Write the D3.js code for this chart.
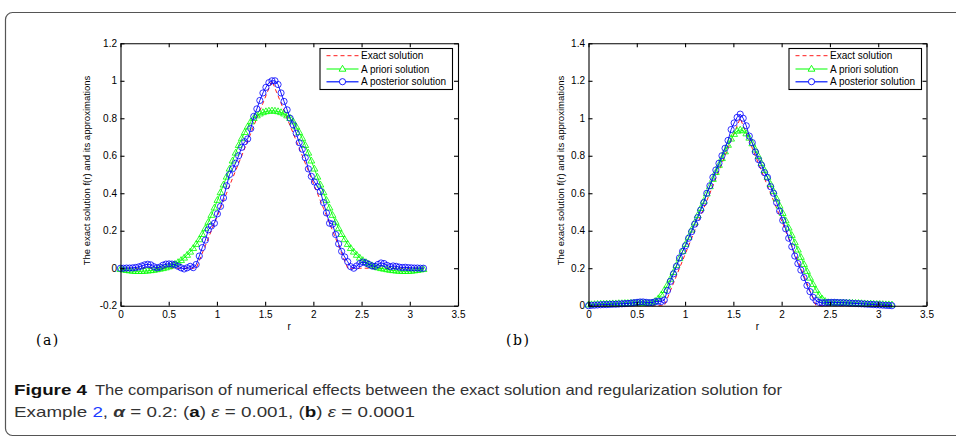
<!DOCTYPE html>
<html>
<head>
<meta charset="utf-8">
<script src="https://cdn.jsdelivr.net/npm/d3@7"></script>
<style>
  body { margin: 0; background: #fff; }
  #chart text { font-family: "Liberation Sans", Arial, Helvetica, sans-serif; }
</style>
</head>
<body>
<div id="chart"></div>
<script>
// grid r in [0, pi], 101 points
var r = [0, 0.031, 0.063, 0.094, 0.126, 0.157, 0.188, 0.220, 0.251, 0.283,
  0.314, 0.346, 0.377, 0.408, 0.440, 0.471, 0.503, 0.534, 0.565, 0.597,
  0.628, 0.660, 0.691, 0.723, 0.754, 0.785, 0.817, 0.848, 0.880, 0.911,
  0.942, 0.974, 1.005, 1.037, 1.068, 1.100, 1.131, 1.162, 1.194, 1.225,
  1.257, 1.288, 1.319, 1.351, 1.382, 1.414, 1.445, 1.477, 1.508, 1.539,
  1.571,
  1.602, 1.634, 1.665, 1.696, 1.728, 1.759, 1.791, 1.822, 1.853, 1.885,
  1.916, 1.948, 1.979, 2.011, 2.042, 2.073, 2.105, 2.136, 2.168, 2.199,
  2.231, 2.262, 2.293, 2.325, 2.356, 2.388, 2.419, 2.450, 2.482, 2.513,
  2.545, 2.576, 2.608, 2.639, 2.670, 2.702, 2.733, 2.765, 2.796, 2.827,
  2.859, 2.890, 2.922, 2.953, 2.985, 3.016, 3.047, 3.079, 3.110, 3.142];

var exact = [0, 0, 0, 0, 0, 0, 0, 0, 0, 0,
  0, 0, 0, 0, 0, 0, 0, 0, 0, 0,
  0, 0, 0, 0, 0, 0, 0.04, 0.08, 0.12, 0.16,
  0.20, 0.24, 0.28, 0.32, 0.36, 0.40, 0.44, 0.48, 0.52, 0.56,
  0.60, 0.64, 0.68, 0.72, 0.76, 0.80, 0.84, 0.88, 0.92, 0.96,
  1.00,
  0.96, 0.92, 0.88, 0.84, 0.80, 0.76, 0.72, 0.68, 0.64, 0.60,
  0.56, 0.52, 0.48, 0.44, 0.40, 0.36, 0.32, 0.28, 0.24, 0.20,
  0.16, 0.12, 0.08, 0.04, 0, 0, 0, 0, 0, 0,
  0, 0, 0, 0, 0, 0, 0, 0, 0, 0,
  0, 0, 0, 0, 0, 0, 0, 0, 0, 0];

// panel (a), eps = 0.001
var priorA = [-0.006, -0.008, -0.011, -0.013, -0.015, -0.016, -0.016, -0.016, -0.015, -0.014,
  -0.012, -0.010, -0.007, -0.004, -0.001, 0.003, 0.008, 0.014, 0.022, 0.031,
  0.042, 0.055, 0.070, 0.087, 0.106, 0.128, 0.153, 0.181, 0.212, 0.246,
  0.283, 0.322, 0.363, 0.404, 0.445, 0.487, 0.530, 0.573, 0.615, 0.656,
  0.692, 0.725, 0.755, 0.782, 0.800, 0.814, 0.824, 0.831, 0.836, 0.839,
  0.840,
  0.839, 0.836, 0.831, 0.824, 0.814, 0.800, 0.782, 0.755, 0.725, 0.692,
  0.656, 0.615, 0.573, 0.530, 0.487, 0.445, 0.404, 0.363, 0.322, 0.283,
  0.246, 0.212, 0.181, 0.153, 0.128, 0.106, 0.087, 0.070, 0.055, 0.042,
  0.031, 0.022, 0.014, 0.008, 0.003, -0.001, -0.004, -0.007, -0.010, -0.012,
  -0.014, -0.015, -0.016, -0.016, -0.016, -0.015, -0.013, -0.011, -0.008, -0.006];

var postA = [0.000, 0.000, 0.001, 0.001, 0.002, 0.004, 0.007, 0.012, 0.018, 0.021,
  0.018, 0.008, 0.002, 0.006, 0.016, 0.022, 0.023, 0.022, 0.018, 0.010,
  0.002, -0.004, 0.002, 0.010, 0.003, 0.020, 0.065, 0.110, 0.150, 0.205,
  0.225, 0.240, 0.290, 0.330, 0.375, 0.440, 0.500, 0.530, 0.560, 0.600,
  0.645, 0.675, 0.690, 0.745, 0.810, 0.850, 0.895, 0.935, 0.965, 0.990,
  1.000,
  1.000, 0.980, 0.935, 0.890, 0.845, 0.800, 0.765, 0.720, 0.670, 0.635,
  0.590, 0.530, 0.490, 0.460, 0.435, 0.410, 0.350, 0.295, 0.240, 0.235,
  0.180, 0.130, 0.090, 0.060, 0.035, 0.008, 0.000, 0.012, 0.025, 0.033,
  0.028, 0.020, 0.012, 0.010, 0.020, 0.028, 0.025, 0.015, 0.008, 0.012,
  0.010, 0.006, 0.004, 0.005, 0.003, 0.002, 0.001, 0.001, 0.000, 0.000];

// panel (b), eps = 0.0001
var priorB = [0.005, 0.006, 0.007, 0.008, 0.009, 0.009, 0.010, 0.010, 0.011, 0.011,
  0.012, 0.012, 0.013, 0.013, 0.014, 0.014, 0.015, 0.015, 0.014, 0.013,
  0.013, 0.016, 0.024, 0.038, 0.058, 0.082, 0.110, 0.142, 0.178, 0.215,
  0.252, 0.290, 0.328, 0.366, 0.405, 0.443, 0.482, 0.520, 0.558, 0.597,
  0.636, 0.675, 0.712, 0.750, 0.786, 0.822, 0.857, 0.890, 0.915, 0.932,
  0.938,
  0.934, 0.918, 0.895, 0.865, 0.832, 0.797, 0.760, 0.723, 0.686, 0.648,
  0.610, 0.571, 0.532, 0.493, 0.454, 0.415, 0.376, 0.337, 0.298, 0.259,
  0.221, 0.184, 0.148, 0.114, 0.083, 0.057, 0.037, 0.024, 0.017, 0.015,
  0.015, 0.016, 0.016, 0.016, 0.015, 0.015, 0.014, 0.013, 0.013, 0.012,
  0.011, 0.010, 0.010, 0.009, 0.008, 0.008, 0.007, 0.006, 0.006, 0.005];

var postB = [0.000, 0.002, 0.003, 0.004, 0.005, 0.006, 0.006, 0.007, 0.008, 0.008,
  0.009, 0.010, 0.011, 0.012, 0.014, 0.016, 0.018, 0.020, 0.020, 0.018,
  0.016, 0.017, 0.021, 0.024, 0.022, 0.030, 0.080, 0.130, 0.170, 0.210,
  0.255, 0.290, 0.320, 0.360, 0.395, 0.435, 0.470, 0.510, 0.550, 0.600,
  0.640, 0.685, 0.724, 0.760, 0.800, 0.840, 0.882, 0.940, 0.975, 1.005,
  1.022,
  1.000, 0.960, 0.905, 0.870, 0.820, 0.780, 0.750, 0.710, 0.685, 0.635,
  0.600, 0.550, 0.505, 0.455, 0.410, 0.360, 0.315, 0.265, 0.225, 0.190,
  0.150, 0.108, 0.075, 0.045, 0.027, 0.018, 0.015, 0.016, 0.017, 0.018,
  0.018, 0.017, 0.016, 0.016, 0.015, 0.014, 0.013, 0.012, 0.011, 0.010,
  0.009, 0.008, 0.007, 0.006, 0.005, 0.004, 0.003, 0.002, 0.001, 0.000];

var xTicks = [0, 0.5, 1, 1.5, 2, 2.5, 3, 3.5];
var yTicksA = [-0.2, 0, 0.2, 0.4, 0.6, 0.8, 1, 1.2];
var yTicksB = [0, 0.2, 0.4, 0.6, 0.8, 1, 1.2, 1.4];
var legendNames = ["Exact solution", "A priori solution", "A posterior solution"];
var panelNames = ["(a)", "(b)"];
var yLabel = "The exact solution f(r) and its approximations";
var xLabel = "r";

var svg = d3.select("#chart").append("svg")
    .attr("width", 956)
    .attr("height", 438);

// outer frame of the figure box
svg.append("rect")
    .attr("x", 5.5).attr("y", 12.5)
    .attr("width", 1000).attr("height", 423)
    .attr("rx", 7)
    .attr("fill", "none")
    .attr("stroke", "#555")
    .attr("stroke-width", 1.2);

var triPath = "M0,-3.7L3.4,2.2L-3.4,2.2Z";
var circR = 3.1;

var drawPanel = function (cfg) {
  var x = d3.scaleLinear().domain([0, 3.5]).range([cfg.left, cfg.right]);
  var y = d3.scaleLinear().domain(cfg.yDomain).range([cfg.bottom, cfg.top]);
  var g = svg.append("g");
  var fmt = function (d) { return String(d); };

  // curves: exact, a priori, a posterior
  var line = function (vals) {
    return d3.line()
      .x(function (d, i) { return x(r[i]); })
      .y(function (d) { return y(d); })(vals);
  };
  g.append("path").attr("d", line(exact))
      .attr("fill", "none").attr("stroke", "#ff0000")
      .attr("stroke-width", 0.9).attr("stroke-dasharray", "4,3");

  g.append("path").attr("d", line(cfg.prior))
      .attr("fill", "none").attr("stroke", "#00ff00").attr("stroke-width", 0.9);
  g.selectAll(".tri").data(cfg.prior).enter().append("path")
      .attr("d", triPath)
      .attr("transform", function (d, i) { return "translate(" + x(r[i]) + "," + y(d) + ")"; })
      .attr("fill", "none").attr("stroke", "#00ff00").attr("stroke-width", 0.8);

  g.append("path").attr("d", line(cfg.post))
      .attr("fill", "none").attr("stroke", "#0000ff").attr("stroke-width", 0.9);
  g.selectAll(".circ").data(cfg.post).enter().append("circle")
      .attr("cx", function (d, i) { return x(r[i]); })
      .attr("cy", function (d) { return y(d); })
      .attr("r", circR)
      .attr("fill", "none").attr("stroke", "#0000ff").attr("stroke-width", 0.8);

  // axes box with inward ticks
  g.append("g").attr("transform", "translate(0," + cfg.bottom + ")")
      .call(d3.axisBottom(x).tickValues(xTicks).tickFormat(fmt)
        .tickSizeInner(-4).tickSizeOuter(0).tickPadding(5));
  g.append("g").attr("transform", "translate(" + cfg.left + ",0)")
      .call(d3.axisLeft(y).tickValues(cfg.yTicks).tickFormat(fmt)
        .tickSizeInner(-4).tickSizeOuter(0).tickPadding(3.5));
  g.append("g").attr("transform", "translate(0," + cfg.top + ")")
      .call(d3.axisTop(x).tickValues(xTicks).tickFormat("")
        .tickSizeInner(-4).tickSizeOuter(0));
  g.append("g").attr("transform", "translate(" + cfg.right + ",0)")
      .call(d3.axisRight(y).tickValues(cfg.yTicks).tickFormat("")
        .tickSizeInner(-4).tickSizeOuter(0));
  g.selectAll(".domain, .tick line").attr("stroke", "#000").attr("stroke-width", 1.1);
  g.selectAll(".tick text").attr("font-size", 10).attr("fill", "#000")
      .style("font-family", "'Liberation Sans', Arial, sans-serif");

  // axis titles
  g.append("text")
      .attr("x", (cfg.left + cfg.right) / 2).attr("y", 330)
      .attr("text-anchor", "middle").attr("font-size", 10)
      .text(xLabel);
  g.append("text")
      .attr("transform", "translate(" + cfg.yLabelX + "," + ((cfg.top + cfg.bottom) / 2 - 4) + ") rotate(-90)")
      .attr("text-anchor", "middle").attr("font-size", 9.5)
      .text(yLabel);

  // legend
  var lg = g.append("g");
  lg.append("rect")
      .attr("x", cfg.legX).attr("y", 48.5)
      .attr("width", 132.5).attr("height", 41)
      .attr("fill", "#fff").attr("stroke", "#000").attr("stroke-width", 1.1);
  var rowY = [55.7, 69, 81.7];
  var styles = [
    { color: "#ff0000", dash: "4,3", mark: null, w: 0.9 },
    { color: "#00ff00", dash: null, mark: "tri", w: 1.2 },
    { color: "#3344ff", dash: null, mark: "circ", w: 1.4 }
  ];
  legendNames.forEach(function (name, k) {
    var x0 = cfg.legX + 6.5, x1 = cfg.legX + 38.5, yy = rowY[k];
    lg.append("line")
        .attr("x1", x0).attr("x2", x1).attr("y1", yy).attr("y2", yy)
        .attr("stroke", styles[k].color).attr("stroke-width", styles[k].w)
        .attr("stroke-dasharray", styles[k].dash);
    if (styles[k].mark === "tri") {
      lg.append("path").attr("d", triPath)
          .attr("transform", "translate(" + ((x0 + x1) / 2) + "," + yy + ")")
          .attr("fill", "#fff").attr("stroke", "#00ff00").attr("stroke-width", 0.9);
    } else if (styles[k].mark === "circ") {
      lg.append("circle").attr("cx", (x0 + x1) / 2).attr("cy", yy).attr("r", circR)
          .attr("fill", "#fff").attr("stroke", "#0000ff").attr("stroke-width", 0.9);
    }
    lg.append("text")
        .attr("x", cfg.legX + 41).attr("y", yy + 3.6)
        .attr("font-size", 10).attr("fill", "#000")
        .text(name);
  });

  // panel tag
  g.append("text")
      .attr("x", cfg.tagX).attr("y", 345)
      .attr("font-size", 14)
      .style("font-family", "'DejaVu Serif', 'Liberation Serif', serif")
      .attr("letter-spacing", 1.5)
      .text(cfg.tag);
};

drawPanel({
  left: 120.5, right: 458, top: 43.3, bottom: 305.7,
  yDomain: [-0.2, 1.2], yTicks: yTicksA,
  prior: priorA, post: postA,
  legX: 320, yLabelX: 89.5, tagX: 36, tag: panelNames[0]
});
drawPanel({
  left: 588.5, right: 926.5, top: 43.3, bottom: 305.7,
  yDomain: [0, 1.4], yTicks: yTicksB,
  prior: priorB, post: postB,
  legX: 789, yLabelX: 563.5, tagX: 506, tag: panelNames[1]
});

// caption
var cap = svg.append("g")
    .style("font-family", "'Liberation Sans Narrow', 'DejaVu Sans Condensed', 'Open Sans', 'Noto Sans', sans-serif");
cap.append("text")
    .attr("x", 14).attr("y", 395).attr("font-size", 15).attr("font-weight", "bold")
    .attr("fill", "#111")
    .attr("textLength", 73).attr("lengthAdjust", "spacingAndGlyphs")
    .text("Figure 4");
cap.append("text")
    .attr("x", 95).attr("y", 395).attr("font-size", 15).attr("fill", "#333")
    .attr("textLength", 687).attr("lengthAdjust", "spacingAndGlyphs")
    .text("The comparison of numerical effects between the exact solution and regularization solution for");
var l2 = cap.append("text")
    .attr("x", 14).attr("y", 417).attr("font-size", 15).attr("fill", "#333")
    .attr("textLength", 401).attr("lengthAdjust", "spacingAndGlyphs");
l2.append("tspan").text("Example ");
l2.append("tspan").attr("fill", "#1a3cff").text("2");
l2.append("tspan").text(", ");
l2.append("tspan").attr("font-style", "italic").attr("font-weight", "bold").text("α");
l2.append("tspan").text(" = 0.2: (");
l2.append("tspan").attr("font-weight", "bold").attr("fill", "#111").text("a");
l2.append("tspan").text(") ");
l2.append("tspan").attr("font-style", "italic").text("ε");
l2.append("tspan").text(" = 0.001, (");
l2.append("tspan").attr("font-weight", "bold").attr("fill", "#111").text("b");
l2.append("tspan").text(") ");
l2.append("tspan").attr("font-style", "italic").text("ε");
l2.append("tspan").text(" = 0.0001");
</script>
</body>
</html>
